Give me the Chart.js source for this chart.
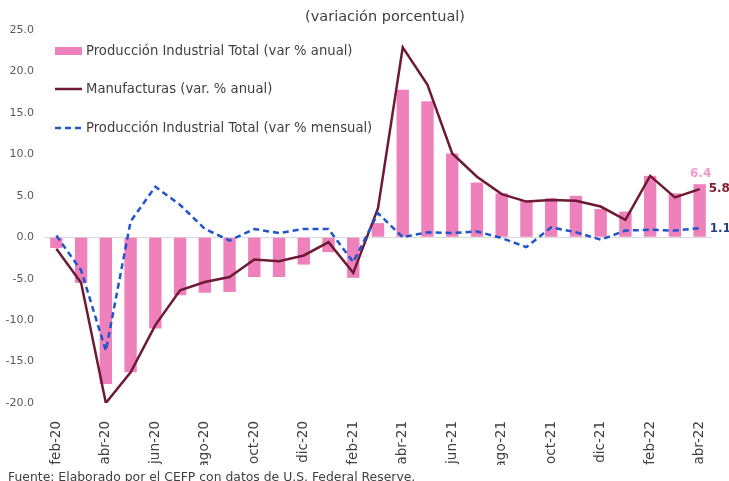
<!DOCTYPE html>
<html>
<head>
<meta charset="utf-8">
<script src="https://cdn.jsdelivr.net/npm/chart.js@4.4.1/dist/chart.umd.min.js"></script>
<style>
html,body{margin:0;padding:0;background:#fff}
#wrap{width:729px;height:481px;position:relative;overflow:hidden}
</style>
</head>
<body>
<div id="wrap"><canvas id="chart" width="729" height="481"></canvas></div>
<script>
const meses = ['feb-20','mar-20','abr-20','may-20','jun-20','jul-20','ago-20','sep-20','oct-20','nov-20','dic-20',
  'ene-21','feb-21','mar-21','abr-21','may-21','jun-21','jul-21','ago-21','sep-21','oct-21','nov-21','dic-21',
  'ene-22','feb-22','mar-22','abr-22'];
const prodAnual = [-1.3,-5.5,-17.7,-16.3,-11.0,-7.0,-6.7,-6.6,-4.8,-4.8,-3.3,-1.8,-4.9,1.7,17.8,16.4,10.1,6.6,5.3,4.4,4.7,5.0,3.4,3.1,7.4,5.3,6.4];
const manufacturas = [-1.4,-5.5,-20.0,-16.3,-10.6,-6.4,-5.4,-4.8,-2.7,-2.9,-2.2,-0.6,-4.3,3.5,22.9,18.4,10.1,7.3,5.2,4.3,4.5,4.4,3.7,2.1,7.4,4.8,5.8];
const prodMensual = [0.2,-4.0,-13.7,1.9,6.1,3.9,1.0,-0.4,1.0,0.5,1.0,1.0,-3.0,2.9,0.0,0.6,0.5,0.7,-0.1,-1.2,1.2,0.6,-0.3,0.8,0.9,0.8,1.1];
const yMin = -20, yMax = 25, yStep = 5;

const FONT = 'DejaVu Sans';
const PINK = '#ee80bb', MAROON = '#6e1a35', BLUE = '#1f55cc';
const series = [
  {label:'Producción Industrial Total (var % anual)', color:PINK, kind:'box'},
  {label:'Manufacturas (var. % anual)', color:MAROON, kind:'line'},
  {label:'Producción Industrial Total (var % mensual)', color:BLUE, kind:'dash'}
];

// titulo, fuente, leyenda y etiquetas finales
const extras = {
  id:'extras',
  afterDraw(chart){
    const ctx = chart.ctx, a = chart.chartArea;
    ctx.save();
    ctx.fillStyle = '#404040';
    ctx.font = '14.5px "'+FONT+'"';
    ctx.textAlign = 'center'; ctx.textBaseline = 'middle';
    ctx.fillText('(variación porcentual)', 385, 17);
    ctx.textAlign = 'left'; ctx.textBaseline = 'top';
    ctx.font = '12.4px "'+FONT+'"';
    ctx.fillText('Fuente: Elaborado por el CEFP con datos de U.S. Federal Reserve.', 8, 472);

    ctx.font = '13.2px "'+FONT+'"';
    ctx.textBaseline = 'middle';
    const ys = [51, 89, 128];
    series.forEach((s,i)=>{
      const x0 = a.left + 11, y = ys[i];
      if(s.kind==='box'){ ctx.fillStyle = s.color; ctx.fillRect(x0, y-4, 27, 8); }
      else{
        ctx.strokeStyle = s.color; ctx.lineWidth = 2.5;
        ctx.setLineDash(s.kind==='dash'?[6,4]:[]);
        ctx.beginPath(); ctx.moveTo(x0, y); ctx.lineTo(x0+27, y); ctx.stroke();
        ctx.setLineDash([]);
      }
      ctx.fillStyle = '#404040';
      ctx.fillText(s.label, x0+31, y+1);
    });
    ctx.restore();
  },
  afterDatasetsDraw(chart){
    const ctx = chart.ctx;
    const n = meses.length - 1;
    ctx.save();
    ctx.font = 'bold 12px "'+FONT+'"';
    const bar = chart.getDatasetMeta(0).data[n];
    ctx.fillStyle = '#f29ac9'; ctx.textAlign = 'center'; ctx.textBaseline = 'bottom';
    ctx.fillText(prodAnual[n].toFixed(1), bar.x + 1, bar.y - 4);
    const m = chart.getDatasetMeta(1).data[n];
    ctx.fillStyle = '#7d2230'; ctx.textAlign = 'left'; ctx.textBaseline = 'middle';
    ctx.fillText(manufacturas[n].toFixed(1), m.x + 9, m.y);
    const b = chart.getDatasetMeta(2).data[n];
    ctx.fillStyle = '#213f8e';
    ctx.fillText(prodMensual[n].toFixed(1), b.x + 10, b.y + 1);
    ctx.restore();
  }
};

new Chart(document.getElementById('chart'), {
  type:'bar',
  data:{
    labels:meses,
    datasets:[
      {label:series[0].label, data:prodAnual, backgroundColor:PINK, barPercentage:0.5, categoryPercentage:1.0, order:3},
      {type:'line', label:series[1].label, data:manufacturas, borderColor:MAROON, borderWidth:2.5, pointRadius:0, tension:0, fill:false, order:2},
      {type:'line', label:series[2].label, data:prodMensual, borderColor:BLUE, borderWidth:2.5, borderDash:[6,4], pointRadius:0, tension:0, fill:false, order:1}
    ]
  },
  options:{
    responsive:false,
    animation:false,
    devicePixelRatio:1,
    layout:{padding:{left:0, right:17, top:30, bottom:16}},
    plugins:{legend:{display:false}, tooltip:{enabled:false}, title:{display:false}},
    scales:{
      x:{
        offset:true,
        grid:{display:false},
        border:{display:false},
        ticks:{
          autoSkip:false, minRotation:90, maxRotation:90, padding:10,
          color:'#404040', font:{family:FONT, size:13.5},
          callback:(v,i)=> i%2===0 ? meses[i] : ''
        },
        afterFit:s=>{ s.height = 62; }
      },
      y:{
        min:yMin, max:yMax,
        border:{display:false},
        grid:{drawTicks:false, lineWidth:1, color:c=> c.tick && c.tick.value===0 ? '#d9d9d9' : 'rgba(0,0,0,0)'},
        ticks:{stepSize:yStep, padding:10, color:'#595959', font:{family:FONT, size:11},
          callback:v=> Number(v).toFixed(1)},
        afterFit:s=>{ s.width = 44; }
      }
    }
  },
  plugins:[extras]
});
</script>
</body>
</html>
